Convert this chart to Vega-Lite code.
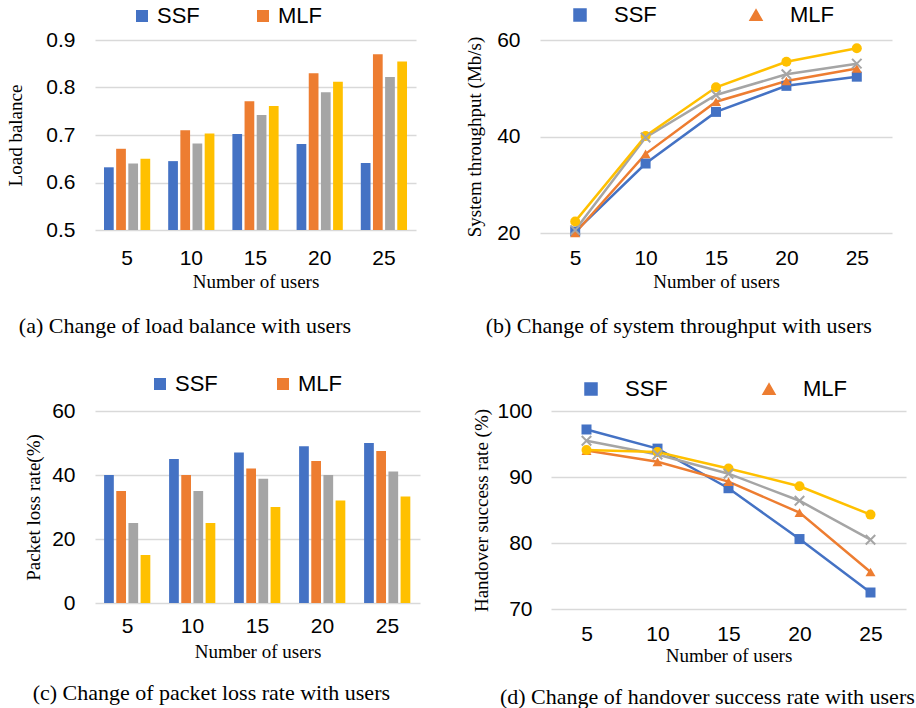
{
"$schema": "https://vega.github.io/schema/vega-lite/v6.json",
"padding": {"left": 6, "top": 4, "right": 2, "bottom": 2},
"datasets": {
"lb": [
{"users":5,"series":"SSF","value":0.632},{"users":5,"series":"MLF","value":0.671},{"users":5,"series":"Scheme 3","value":0.640},{"users":5,"series":"Scheme 4","value":0.650},
{"users":10,"series":"SSF","value":0.645},{"users":10,"series":"MLF","value":0.710},{"users":10,"series":"Scheme 3","value":0.682},{"users":10,"series":"Scheme 4","value":0.703},
{"users":15,"series":"SSF","value":0.702},{"users":15,"series":"MLF","value":0.771},{"users":15,"series":"Scheme 3","value":0.742},{"users":15,"series":"Scheme 4","value":0.761},
{"users":20,"series":"SSF","value":0.681},{"users":20,"series":"MLF","value":0.830},{"users":20,"series":"Scheme 3","value":0.790},{"users":20,"series":"Scheme 4","value":0.812},
{"users":25,"series":"SSF","value":0.641},{"users":25,"series":"MLF","value":0.870},{"users":25,"series":"Scheme 3","value":0.822},{"users":25,"series":"Scheme 4","value":0.855}
],
"tp": [
{"users":5,"series":"SSF","value":20.3},{"users":5,"series":"MLF","value":20.0},{"users":5,"series":"Scheme 3","value":20.6},{"users":5,"series":"Scheme 4","value":22.4},
{"users":10,"series":"SSF","value":34.4},{"users":10,"series":"MLF","value":36.4},{"users":10,"series":"Scheme 3","value":39.8},{"users":10,"series":"Scheme 4","value":40.1},
{"users":15,"series":"SSF","value":45.1},{"users":15,"series":"MLF","value":47.2},{"users":15,"series":"Scheme 3","value":48.6},{"users":15,"series":"Scheme 4","value":50.2},
{"users":20,"series":"SSF","value":50.5},{"users":20,"series":"MLF","value":51.5},{"users":20,"series":"Scheme 3","value":52.9},{"users":20,"series":"Scheme 4","value":55.5},
{"users":25,"series":"SSF","value":52.4},{"users":25,"series":"MLF","value":54.1},{"users":25,"series":"Scheme 3","value":55.1},{"users":25,"series":"Scheme 4","value":58.3}
],
"pl": [
{"users":5,"series":"SSF","value":40},{"users":5,"series":"MLF","value":35},{"users":5,"series":"Scheme 3","value":25},{"users":5,"series":"Scheme 4","value":15},
{"users":10,"series":"SSF","value":45},{"users":10,"series":"MLF","value":40},{"users":10,"series":"Scheme 3","value":35},{"users":10,"series":"Scheme 4","value":25},
{"users":15,"series":"SSF","value":47},{"users":15,"series":"MLF","value":42},{"users":15,"series":"Scheme 3","value":38.8},{"users":15,"series":"Scheme 4","value":30},
{"users":20,"series":"SSF","value":49},{"users":20,"series":"MLF","value":44.4},{"users":20,"series":"Scheme 3","value":40},{"users":20,"series":"Scheme 4","value":32},
{"users":25,"series":"SSF","value":50},{"users":25,"series":"MLF","value":47.5},{"users":25,"series":"Scheme 3","value":41.1},{"users":25,"series":"Scheme 4","value":33.3}
],
"hs": [
{"users":5,"series":"SSF","value":97.2},{"users":5,"series":"MLF","value":94.0},{"users":5,"series":"Scheme 3","value":95.5},{"users":5,"series":"Scheme 4","value":94.1},
{"users":10,"series":"SSF","value":94.3},{"users":10,"series":"MLF","value":92.3},{"users":10,"series":"Scheme 3","value":93.4},{"users":10,"series":"Scheme 4","value":93.8},
{"users":15,"series":"SSF","value":88.3},{"users":15,"series":"MLF","value":89.3},{"users":15,"series":"Scheme 3","value":90.5},{"users":15,"series":"Scheme 4","value":91.3},
{"users":20,"series":"SSF","value":80.6},{"users":20,"series":"MLF","value":84.6},{"users":20,"series":"Scheme 3","value":86.4},{"users":20,"series":"Scheme 4","value":88.6},
{"users":25,"series":"SSF","value":72.5},{"users":25,"series":"MLF","value":75.6},{"users":25,"series":"Scheme 3","value":80.5},{"users":25,"series":"Scheme 4","value":84.3}
]
},
"config": {
"view": {"stroke": null},
"axis": {"labelFont": "Liberation Sans", "labelFontSize": 21, "labelColor": "#000000", "titleFont": "Liberation Serif", "titleFontSize": 19, "titleFontWeight": "normal", "titleColor": "#000000", "ticks": false, "domain": false, "gridColor": "#D9D9D9", "gridWidth": 1.5},
"legend": {"labelFont": "Liberation Sans", "labelFontSize": 22, "labelColor": "#000000", "orient": "none", "direction": "horizontal", "title": null},
"title": {"font": "Liberation Serif", "fontSize": 22, "fontWeight": "normal", "color": "#000000", "orient": "bottom", "anchor": "start", "frame": "bounds"}
},
"spacing": 36,
"resolve": {"scale": {"color": "independent", "shape": "independent"}, "legend": {"color": "independent", "shape": "independent"}},
"vconcat": [
{"hconcat": [
{
"width": 321, "height": 190,
"data": {"name": "lb"},
"title": {"text": "(a) Change of load balance with users", "anchor": "start", "frame": "bounds", "orient": "bottom", "dx": 12, "offset": 25},
"mark": {"type": "bar"},
"encoding": {
"x": {"field": "users", "type": "ordinal", "scale": {"paddingInner": 0.28, "paddingOuter": 0.14}, "axis": {"title": "Number of users", "labelAngle": 0, "labelPadding": 17, "titlePadding": 4, "grid": false}},
"xOffset": {"field": "series", "scale": {"domain": ["SSF","MLF","Scheme 3","Scheme 4"], "paddingInner": 0.2}},
"y": {"field": "value", "type": "quantitative", "scale": {"domain": [0.5, 0.9], "zero": false}, "axis": {"title": "Load balance", "values": [0.5,0.6,0.7,0.8,0.9], "format": ".1f", "labelPadding": 20, "titlePadding": 20}},
"y2": {"datum": 0.5},
"color": {"field": "series", "type": "nominal", "scale": {"domain": ["SSF","MLF","Scheme 3","Scheme 4"], "range": ["#4472C4","#ED7D31","#A5A5A5","#FFC000"]},
"legend": {"values": ["SSF","MLF"], "legendX": 36, "legendY": -35, "symbolType": "square", "symbolSize": 144, "columnPadding": 52, "labelOffset": 4}}
}
},
{
"width": 352, "height": 193,
"data": {"name": "tp"},
"title": {"text": "(b) Change of system throughput with users", "anchor": "start", "frame": "bounds", "orient": "bottom", "dx": 20, "offset": 25},
"encoding": {
"x": {"field": "users", "type": "ordinal", "scale": {"type": "point", "padding": 0.5}, "axis": {"title": "Number of users", "labelAngle": 0, "labelPadding": 14, "titlePadding": 4, "grid": false}},
"y": {"field": "value", "type": "quantitative", "scale": {"domain": [20, 60]}, "axis": {"title": "System throughput (Mb/s)", "values": [20,40,60], "labelPadding": 20, "titlePadding": 12}},
"color": {"field": "series", "type": "nominal", "scale": {"domain": ["SSF","MLF","Scheme 3","Scheme 4"], "range": ["#4472C4","#ED7D31","#A5A5A5","#FFC000"]},
"legend": {"values": ["SSF","MLF"], "legendX": 29, "legendY": -36, "symbolSize": 144, "columnPadding": 88, "labelOffset": 23}}
},
"layer": [
{"mark": {"type": "line", "strokeWidth": 2.5}},
{"transform": [{"filter": "datum.series !== 'Scheme 3'"}],
"mark": {"type": "point", "filled": true, "opacity": 1, "size": 100},
"encoding": {
"shape": {"field": "series", "type": "nominal", "scale": {"domain": ["SSF","MLF","Scheme 3","Scheme 4"], "range": ["square","triangle-up","cross","circle"]}, "legend": null}
}},
{"transform": [{"filter": "datum.series === 'Scheme 3'"}],
"mark": {"type": "point", "filled": false, "shape": "M-1,-1L1,1M-1,1L1,-1", "stroke": "#A5A5A5", "strokeWidth": 2, "opacity": 1, "size": 90}}
]
}
], "spacing": 49, "resolve": {"scale": {"color": "independent", "shape": "independent"}, "legend": {"color": "independent", "shape": "independent"}}},
{"hconcat": [
{
"width": 325, "height": 192,
"data": {"name": "pl"},
"title": {"text": "(c) Change of packet loss rate with users", "anchor": "start", "frame": "bounds", "orient": "bottom", "dx": 8, "offset": 22},
"mark": {"type": "bar"},
"encoding": {
"x": {"field": "users", "type": "ordinal", "scale": {"paddingInner": 0.28, "paddingOuter": 0.14}, "axis": {"title": "Number of users", "labelAngle": 0, "labelPadding": 12, "titlePadding": 6, "grid": false}},
"xOffset": {"field": "series", "scale": {"domain": ["SSF","MLF","Scheme 3","Scheme 4"], "paddingInner": 0.2}},
"y": {"field": "value", "type": "quantitative", "scale": {"domain": [0, 60]}, "axis": {"title": "Packet loss rate(%)", "values": [0,20,40,60], "labelPadding": 20, "titlePadding": 8}},
"color": {"field": "series", "type": "nominal", "scale": {"domain": ["SSF","MLF","Scheme 3","Scheme 4"], "range": ["#4472C4","#ED7D31","#A5A5A5","#FFC000"]},
"legend": {"values": ["SSF","MLF"], "legendX": 54, "legendY": -38, "symbolType": "square", "symbolSize": 144, "columnPadding": 54, "labelOffset": 4}}
}
},
{
"width": 355, "height": 198,
"data": {"name": "hs"},
"title": {"text": "(d) Change of handover success rate with users", "anchor": "start", "frame": "bounds", "orient": "bottom", "dx": 27, "offset": 22},
"encoding": {
"x": {"field": "users", "type": "ordinal", "scale": {"type": "point", "padding": 0.5}, "axis": {"title": "Number of users", "labelAngle": 0, "labelPadding": 14, "titlePadding": 2, "grid": false}},
"y": {"field": "value", "type": "quantitative", "scale": {"domain": [70, 100]}, "axis": {"title": "Handover success rate (%)", "values": [70,80,90,100], "labelPadding": 19, "titlePadding": 5}},
"color": {"field": "series", "type": "nominal", "scale": {"domain": ["SSF","MLF","Scheme 3","Scheme 4"], "range": ["#4472C4","#ED7D31","#A5A5A5","#FFC000"]},
"legend": {"values": ["SSF","MLF"], "legendX": 29, "legendY": -33, "symbolSize": 144, "columnPadding": 90, "labelOffset": 23}}
},
"layer": [
{"mark": {"type": "line", "strokeWidth": 2.5}},
{"transform": [{"filter": "datum.series !== 'Scheme 3'"}],
"mark": {"type": "point", "filled": true, "opacity": 1, "size": 100},
"encoding": {
"shape": {"field": "series", "type": "nominal", "scale": {"domain": ["SSF","MLF","Scheme 3","Scheme 4"], "range": ["square","triangle-up","cross","circle"]}, "legend": null}
}},
{"transform": [{"filter": "datum.series === 'Scheme 3'"}],
"mark": {"type": "point", "filled": false, "shape": "M-1,-1L1,1M-1,1L1,-1", "stroke": "#A5A5A5", "strokeWidth": 2, "opacity": 1, "size": 90}}
]
}
], "spacing": 52, "resolve": {"scale": {"color": "independent", "shape": "independent"}, "legend": {"color": "independent", "shape": "independent"}}}
]
}
